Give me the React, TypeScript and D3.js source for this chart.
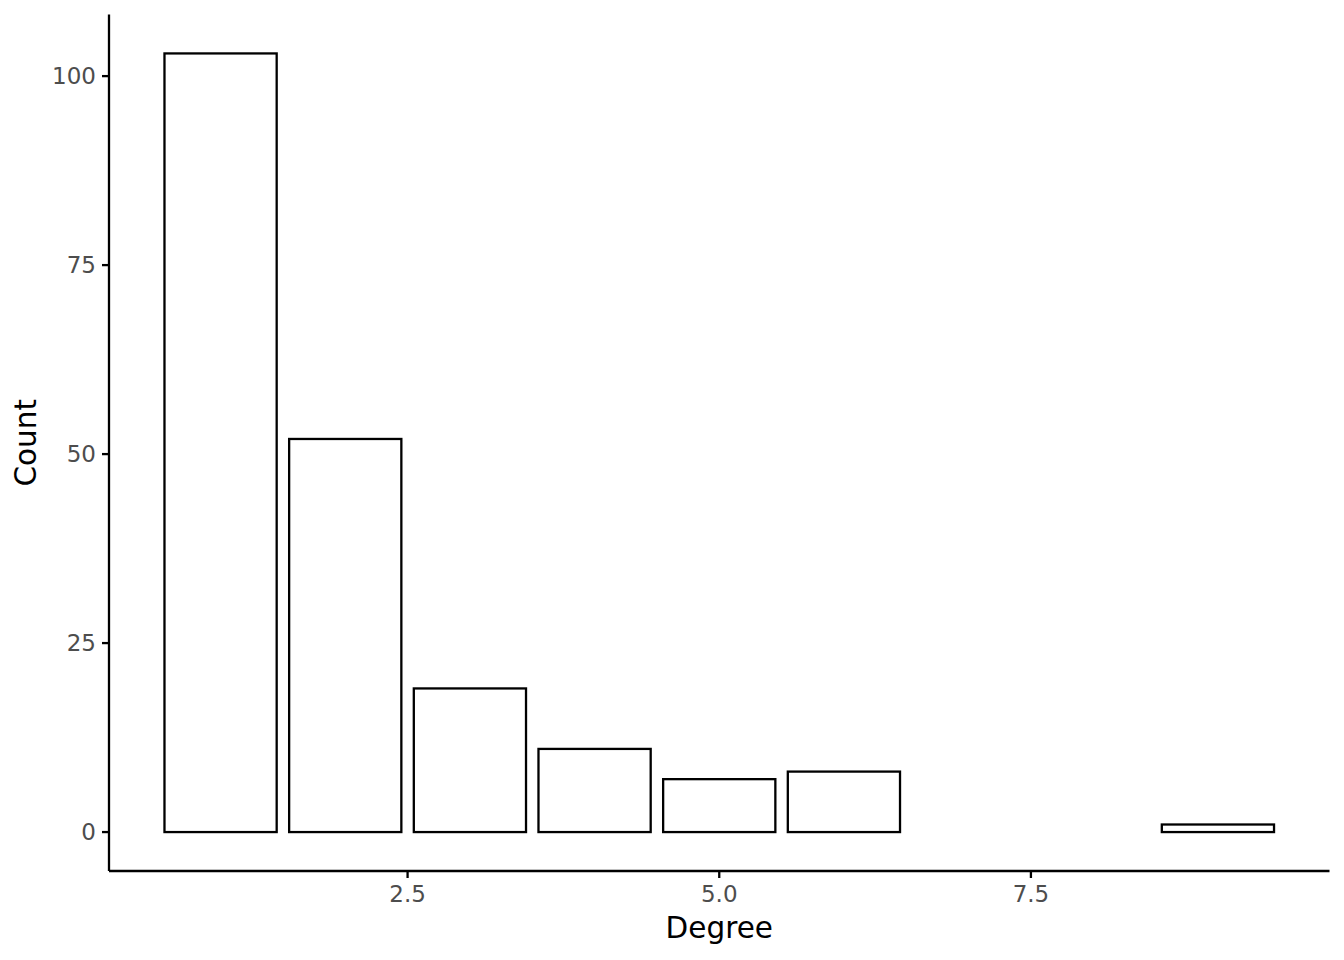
import React from "react";
import * as d3 from "d3";

const degrees = [1, 2, 3, 4, 5, 6, 9];
const counts = [103, 52, 19, 11, 7, 8, 1];
const xTicks = [2.5, 5.0, 7.5];
const yTicks = [0, 25, 50, 75, 100];

export default function App() {
  const W = 1344, H = 960;
  const left = 109, right = 1329.5, top = 14.5, bottom = 871;
  const x = d3.scaleLinear().domain([0.105, 9.895]).range([left, right]);
  const y = d3.scaleLinear().domain([-5.15, 108.15]).range([bottom, top]);
  const bw = 0.9;
  const font = "DejaVu Sans, sans-serif";
  const tickLen = 7;
  return (
    <svg width={W} height={H} style={{ position: "absolute", left: 0, top: 0, background: "#fff" }}>
      <rect x={0} y={0} width={W} height={H} fill="#fff" />
      {degrees.map((d, i) => (
        <rect key={d} x={x(d - bw / 2)} y={y(counts[i])} width={x(d + bw / 2) - x(d - bw / 2)}
          height={y(0) - y(counts[i])} fill="#fff" stroke="#000" strokeWidth={2.3} />
      ))}
      <line x1={left} x2={left} y1={top} y2={bottom} stroke="#000" strokeWidth={2.3} />
      <line x1={left} x2={right} y1={bottom} y2={bottom} stroke="#000" strokeWidth={2.3} />
      {yTicks.map(t => (
        <g key={t}>
          <line x1={left - tickLen} x2={left} y1={y(t)} y2={y(t)} stroke="#000" strokeWidth={2.3} />
          <text x={96} y={y(t)} dy="0.36em" textAnchor="end" fontSize={23} fill="#4d4d4d" fontFamily={font}>{t}</text>
        </g>
      ))}
      {xTicks.map(t => (
        <g key={t}>
          <line x1={x(t)} x2={x(t)} y1={bottom} y2={bottom + tickLen} stroke="#000" strokeWidth={2.3} />
          <text x={x(t)} y={902} textAnchor="middle" fontSize={23} fill="#4d4d4d" fontFamily={font}>{t.toFixed(1)}</text>
        </g>
      ))}
      <text x={(left + right) / 2} y={938} textAnchor="middle" fontSize={29.5} fill="#000" fontFamily={font}>Degree</text>
      <text transform={`translate(36,${(top + bottom) / 2}) rotate(-90)`} textAnchor="middle" fontSize={29.5} fill="#000" fontFamily={font}>Count</text>
    </svg>
  );
}
